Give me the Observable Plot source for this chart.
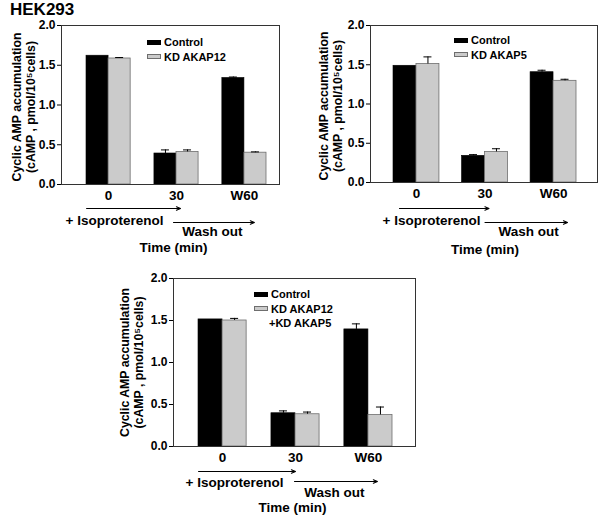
<!DOCTYPE html>
<html>
<head>
<meta charset="utf-8">
<script src="https://cdn.jsdelivr.net/npm/d3@7"></script>
<script src="https://cdn.jsdelivr.net/npm/@observablehq/plot@0.6"></script>
<style>
  body { margin: 0; background: #fff; }
  #root { position: relative; width: 600px; height: 515px; font-family: "Liberation Sans", Arial, Helvetica, sans-serif; font-weight: bold; color: #000; }
  .title { position: absolute; left: 10px; top: 0px; font-size: 17px; }
  .legend { position: absolute; font-size: 11px; line-height: 14.5px; }
  .legend .row { display: flex; align-items: center; }
  .legend .sw { width: 14px; height: 5px; margin-right: 3px; box-sizing: border-box; }
</style>
</head>
<body>
<div id="root"><div class="title">HEK293</div></div>
<script>
// ---- data ----
const groups = ["0", "30", "W60"];
const yTicks = [0, 0.5, 1.0, 1.5, 2.0];
const yLabel = "Cyclic AMP accumulation\n(cAMP , pmol/10\u2075cells)";
const annotations = ["+ Isoproterenol", "Wash out", "Time (min)"];

const seriesA = ["Control", "KD AKAP12"];
const controlA = [1.62, 0.39, 1.34];
const controlAErr = [0, 0.045, 0.012];
const kdA = [1.585, 0.41, 0.40];
const kdAErr = [0.012, 0.025, 0.01];

const seriesB = ["Control", "KD AKAP5"];
const controlB = [1.487, 0.34, 1.405];
const controlBErr = [0, 0.015, 0.025];
const kdB = [1.51, 0.39, 1.295];
const kdBErr = [0.09, 0.04, 0.02];

const seriesC = ["Control", "KD AKAP12\n+KD AKAP5"];
const controlC = [1.513, 0.396, 1.394];
const controlCErr = [0, 0.028, 0.066];
const kdC = [1.50, 0.384, 0.376];
const kdCErr = [0.025, 0.026, 0.094];

const FONT = '"Liberation Sans", Arial, Helvetica, sans-serif';
const root = document.getElementById("root");

function rows(series, values, errs) {
  return groups.map((g, i) => ({time: g, series, value: values[i], err: errs[i]}));
}

function panel(cfg) {
  const {series, control, controlErr, kd, kdErr, L} = cfg;
  const ctrl = rows(series[0], control, controlErr);
  const kdr = rows(series[1], kd, kdErr);
  const bw = d3.scaleBand().domain(groups).range(L.xRange)
    .paddingInner(L.pad).paddingOuter(0).bandwidth();
  const capHalf = 4;
  const top = d => d.value + d.err;
  const chart = Plot.plot({
    width: L.width, height: L.height,
    marginLeft: L.ml, marginRight: L.mr, marginTop: L.mt, marginBottom: L.mb,
    style: {position: "absolute", left: L.left + "px", top: L.top + "px",
            fontFamily: FONT, fontWeight: "bold", background: "transparent", overflow: "visible", color: "#000"},
    x: {type: "band", domain: groups, range: L.xRange, paddingInner: L.pad, paddingOuter: 0, align: 0.5, round: false},
    y: {domain: [0, 2]},
    marks: [
      Plot.barY(ctrl, {x: "time", y: "value", fill: "#000", stroke: "#000", strokeWidth: 0.6, insetRight: bw / 2}),
      Plot.barY(kdr, {x: "time", y: "value", fill: "#cbcbcb", stroke: "#6e6e6e", strokeWidth: 0.8, insetLeft: bw / 2}),
      Plot.ruleX(ctrl.filter(d => d.err > 0), {x: "time", y1: "value", y2: top, dx: -bw / 4, stroke: "#000", strokeWidth: 1}),
      Plot.tickY(ctrl.filter(d => d.err > 0), {x: "time", y: top, insetLeft: bw / 4 - capHalf, insetRight: 3 * bw / 4 - capHalf, stroke: "#000", strokeWidth: 1}),
      Plot.ruleX(kdr.filter(d => d.err > 0), {x: "time", y1: "value", y2: top, dx: bw / 4, stroke: "#000", strokeWidth: 1}),
      Plot.tickY(kdr.filter(d => d.err > 0), {x: "time", y: top, insetLeft: 3 * bw / 4 - capHalf, insetRight: bw / 4 - capHalf, stroke: "#000", strokeWidth: 1}),
      Plot.frame({stroke: "#333", strokeWidth: 1}),
      Plot.axisY({ticks: yTicks, tickFormat: d3.format(".1f"), tickSize: 4, tickPadding: 2, fontSize: 12, fontWeight: "bold", label: null}),
      Plot.axisX({tickSize: 0, tickPadding: 6, fontSize: 13.5, fontWeight: "bold", label: null}),
      Plot.text([yLabel], {text: d => d, frameAnchor: "left", rotate: -90, dx: L.ylDx, dy: L.ylDy,
        textAnchor: "middle", lineAnchor: "middle", lineHeight: 1.12, fontSize: 12.3, fontWeight: "bold"}),
      Plot.arrow([{from: groups[0], to: groups[1]}], {x1: "from", x2: "to", y1: 0, y2: 0, dy: L.a1.dy,
        insetStart: L.a1.s, insetEnd: L.a1.e, headLength: 6, headAngle: 45, stroke: "#000", strokeWidth: 1.1}),
      Plot.arrow([{from: groups[1], to: groups[2]}], {x1: "from", x2: "to", y1: 0, y2: 0, dy: L.a2.dy,
        insetStart: L.a2.s, insetEnd: L.a2.e, headLength: 6, headAngle: 45, stroke: "#000", strokeWidth: 1.1}),
      Plot.text([{t: annotations[0], g: groups[0]}], {x: "g", text: "t", frameAnchor: "bottom", dx: L.iso.dx, dy: L.iso.dy,
        lineAnchor: "middle", fontSize: 13.5, fontWeight: "bold"}),
      Plot.text([{t: annotations[1], g: groups[2]}], {x: "g", text: "t", frameAnchor: "bottom", dx: L.wash.dx, dy: L.wash.dy,
        lineAnchor: "middle", fontSize: 13.5, fontWeight: "bold"}),
      Plot.text([{t: annotations[2], g: groups[1]}], {x: "g", text: "t", frameAnchor: "bottom", dx: L.time.dx, dy: L.time.dy,
        lineAnchor: "middle", fontSize: 13.5, fontWeight: "bold"})
    ]
  });
  root.appendChild(chart);

  // legend
  const lg = document.createElement("div");
  lg.className = "legend";
  lg.style.left = L.lgLeft + "px";
  lg.style.top = L.lgTop + "px";
  const fills = [["#000", "#000"], ["#cbcbcb", "#6e6e6e"]];
  series.forEach((name, i) => {
    const lines = name.split("\n");
    const r = document.createElement("div");
    r.className = "row";
    const sw = document.createElement("div");
    sw.className = "sw";
    sw.style.background = fills[i][0];
    sw.style.border = "0.8px solid " + fills[i][1];
    const tx = document.createElement("span");
    tx.textContent = lines[0];
    r.appendChild(sw); r.appendChild(tx);
    lg.appendChild(r);
    for (const extra of lines.slice(1)) {
      const r2 = document.createElement("div");
      r2.style.paddingLeft = "15px";
      r2.textContent = extra;
      lg.appendChild(r2);
    }
  });
  root.appendChild(lg);
}

panel({series: seriesA, control: controlA, controlErr: controlAErr, kd: kdA, kdErr: kdAErr,
  L: {left: 0, top: 0, width: 300, height: 260, ml: 61, mr: 21, mt: 25, mb: 76, xRange: [86, 266], pad: 0.35,
      ylDx: -38, ylDy: 2,
      a1: {dy: 24, s: -22, e: -4}, a2: {dy: 38, s: -3, e: -10},
      iso: {dx: 6, dy: 36}, wash: {dx: -32, dy: 47}, time: {dx: -3, dy: 63},
      lgLeft: 147, lgTop: 35}});

panel({series: seriesB, control: controlB, controlErr: controlBErr, kd: kdB, kdErr: kdBErr,
  L: {left: 300, top: 0, width: 300, height: 260, ml: 70, mr: 3, mt: 25, mb: 78, xRange: [93, 276], pad: 0.33,
      ylDx: -40, ylDy: 2,
      a1: {dy: 26, s: -17, e: -4}, a2: {dy: 40, s: 0, e: -14},
      iso: {dx: 15, dy: 38}, wash: {dx: -25, dy: 49}, time: {dx: 0, dy: 67},
      lgLeft: 454, lgTop: 33}});

panel({series: seriesC, control: controlC, controlErr: controlCErr, kd: kdC, kdErr: kdCErr,
  L: {left: 110, top: 255, width: 320, height: 260, ml: 63, mr: 15, mt: 23, mb: 69, xRange: [88, 282], pad: 0.34,
      ylDx: -42, ylDy: 0,
      a1: {dy: 25, s: -24, e: 0}, a2: {dy: 35, s: -1, e: -9},
      iso: {dx: 12, dy: 36}, wash: {dx: -34, dy: 46}, time: {dx: -3, dy: 61},
      lgLeft: 254, lgTop: 287}});
</script>
</body>
</html>
